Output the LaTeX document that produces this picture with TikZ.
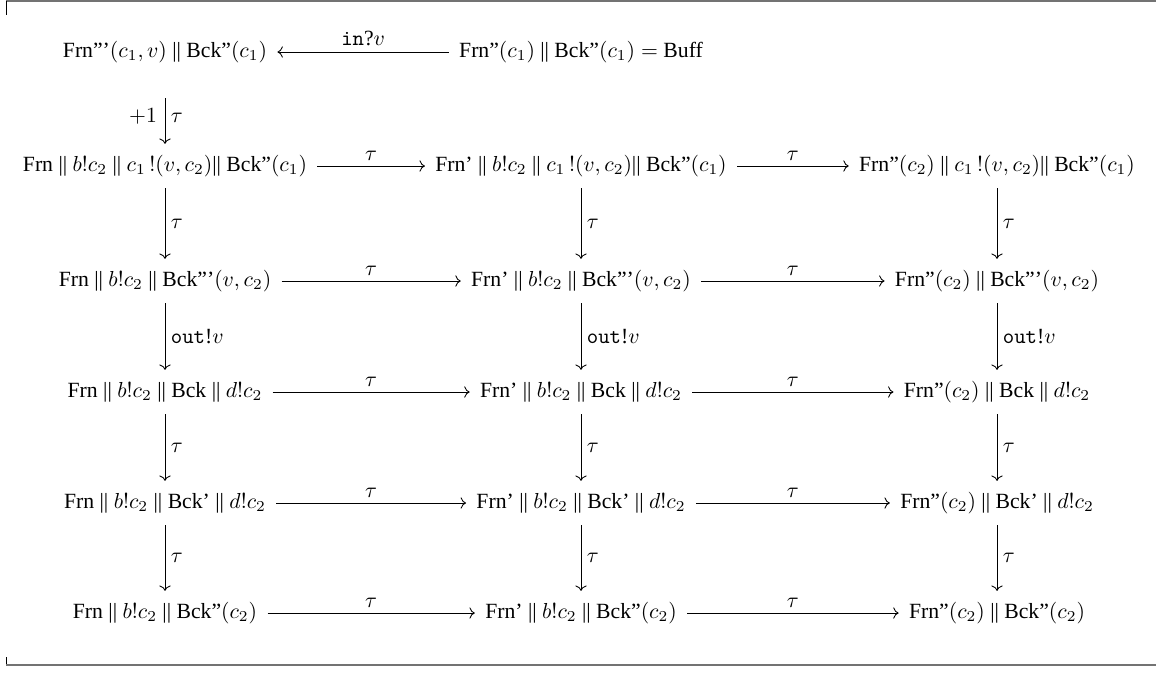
\documentclass[tikz,border=0pt]{standalone}
\usepackage[no-math]{fontspec}
\setmainfont{Liberation Serif}
\usepackage{tikz}
\usetikzlibrary{arrows.meta}

\begin{document}
\begin{tikzpicture}[
    x=0.4608pt, y=-0.4608pt,
    state/.style={inner xsep=4.6pt, inner ysep=5pt,
                  text height=7.5pt, text depth=2.5pt},
    trans/.style={-{To}, thin},
    lbl/.style={inner sep=2.5pt},
]
\useasboundingbox (0,0) rectangle (1156,675);
% frame
\draw[black!55, line width=0.9pt] (6,1) -- (1156,1);
\draw[thin] (6,1) -- (6,15);
\draw[thin] (6,657) -- (6,665);
\draw[black!55, line width=0.9pt] (6,665) -- (1156,665);

\node[state] (frnin) at (165, 52) {Frn'''$(c_1, v)$ || Bck''$(c_1)$};
\node[state] (buff)  at (581, 52) {Frn''$(c_1)$ || Bck''$(c_1) =$ Buff};

\node[state] (snda)  at (165, 166) {Frn || $b!c_2$ || $c_1\,!(v, c_2)$|| Bck''$(c_1)$};
\node[state] (sndb)  at (581, 166) {Frn' || $b!c_2$ || $c_1\,!(v, c_2)$|| Bck''$(c_1)$};
\node[state] (sndc)  at (997, 166) {Frn''$(c_2)$ || $c_1\,!(v, c_2)$|| Bck''$(c_1)$};

\node[state] (bcka)  at (165, 281) {Frn || $b!c_2$ || Bck'''$(v, c_2)$};
\node[state] (bckb)  at (581, 281) {Frn' || $b!c_2$ || Bck'''$(v, c_2)$};
\node[state] (bckc)  at (997, 281) {Frn''$(c_2)$ || Bck'''$(v, c_2)$};

\node[state] (outa)  at (165, 392) {Frn || $b!c_2$ || Bck || $d!c_2$};
\node[state] (outb)  at (581, 392) {Frn' || $b!c_2$ || Bck || $d!c_2$};
\node[state] (outc)  at (997, 392) {Frn''$(c_2)$ || Bck || $d!c_2$};

\node[state] (acka)  at (165, 503) {Frn || $b!c_2$ || Bck' || $d!c_2$};
\node[state] (ackb)  at (581, 503) {Frn' || $b!c_2$ || Bck' || $d!c_2$};
\node[state] (ackc)  at (997, 503) {Frn''$(c_2)$ || Bck' || $d!c_2$};

\node[state] (donea) at (165, 613) {Frn || $b!c_2$ || Bck''$(c_2)$};
\node[state] (doneb) at (581, 613) {Frn' || $b!c_2$ || Bck''$(c_2)$};
\node[state] (donec) at (997, 613) {Frn''$(c_2)$ || Bck''$(c_2)$};

\draw[trans] (buff) -- (frnin) node[midway, above, lbl] {\texttt{in}?$v$};
\draw[trans, shorten <=11pt] (frnin) -- (snda)
    node[pos=0.62, right, lbl] {$\tau$}
    node[pos=0.6, left, lbl, xshift=-1pt] {$+1$};

\foreach \r in {snd, bck, out, ack, done} {
    \draw[trans] (\r a) -- (\r b) node[midway, above, lbl] {$\tau$};
    \draw[trans] (\r b) -- (\r c) node[midway, above, lbl] {$\tau$};
}

\foreach \c in {a, b, c} {
    \draw[trans] (snd\c) -- (bck\c) node[midway, right, lbl] {$\tau$};
    \draw[trans] (bck\c) -- (out\c) node[midway, right, lbl] {\texttt{out}!$v$};
    \draw[trans] (out\c) -- (ack\c) node[midway, right, lbl] {$\tau$};
    \draw[trans] (ack\c) -- (done\c) node[midway, right, lbl] {$\tau$};
}
\end{tikzpicture}
\end{document}
